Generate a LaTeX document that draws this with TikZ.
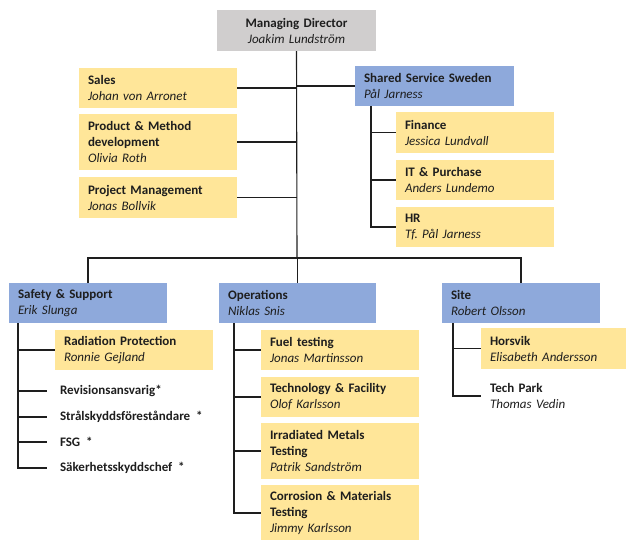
\documentclass[tikz,border=0pt]{standalone}
\usepackage{fontspec}
\setmainfont{Carlito}
\frenchspacing
\definecolor{boxyellow}{HTML}{FFE699}
\definecolor{boxblue}{HTML}{8EA9DB}
\definecolor{boxgray}{HTML}{D0CECE}
\definecolor{inkc}{HTML}{1E1E1E}
\begin{document}
\begin{tikzpicture}[x=1pt,y=-1pt,
  orgbox/.style={anchor=north west, inner xsep=9pt, inner ysep=0pt, outer sep=0pt,
    text width=140pt, align=left, text=inkc,
    font=\fontsize{13}{16}\selectfont},
  ybox/.style={orgbox, fill=boxyellow},
  bbox/.style={orgbox, fill=boxblue},
  plain/.style={anchor=west, inner xsep=13pt, inner ysep=0pt, outer sep=0pt, text=inkc,
    font=\fontsize{13}{16}\selectfont\bfseries},
  link/.style={draw=inkc, line width=1.1pt}
]
\useasboundingbox (0,0) rectangle (626,539);

% top
\node[orgbox, fill=boxgray, text width=141pt, align=center, minimum height=41pt] (md) at (217,10)
  {\textbf{Managing Director}\\\textit{Joakim Lundström}};

\node[ybox, minimum height=40pt] (sales) at (79,68) {\textbf{Sales}\\\textit{Johan von Arronet}};
\node[ybox, minimum height=56pt] (prod) at (79,114) {\textbf{Product \& Method}\\\textbf{development}\\\textit{Olivia Roth}};
\node[ybox, minimum height=41pt] (pm) at (79,177) {\textbf{Project Management}\\\textit{Jonas Bollvik}};

\node[bbox, text width=141pt, minimum height=40pt] (sss) at (355,66) {\textbf{Shared Service Sweden}\\\textit{Pål Jarness}};
\node[ybox, minimum height=41pt] (fin) at (396,112) {\textbf{Finance}\\\textit{Jessica Lundvall}};
\node[ybox, minimum height=40pt] (itp) at (396,160) {\textbf{IT \& Purchase}\\\textit{Anders Lundemo}};
\node[ybox, minimum height=40pt] (hr) at (396,207) {\textbf{HR}\\\textit{Tf.\ Pål Jarness}};

% second level
\coordinate (bar) at (297,258);
\node[bbox, minimum height=40pt] (safety) at (9,283) {\textbf{Safety \& Support}\\\textit{Erik Slunga}};
\node[bbox, text width=139pt, minimum height=40pt] (ops) at (219,283) {\textbf{Operations}\\\textit{Niklas Snis}};
\node[bbox, minimum height=40pt] (site) at (442,283) {\textbf{Site}\\\textit{Robert Olsson}};

\node[ybox, minimum height=40pt] (rad) at (55,330) {\textbf{Radiation Protection}\\\textit{Ronnie Gejland}};
\node[plain] (rev) at (47,391) {Revisionsansvarig*};
\node[plain] (str) at (47,417) {Strålskyddsföreståndare\ \ *};
\node[plain] (fsg) at (47,442) {FSG\ \ *};
\node[plain] (sak) at (47,468) {Säkerhetsskyddschef\ \ *};

\node[ybox, minimum height=40pt] (fuel) at (261,330) {\textbf{Fuel testing}\\\textit{Jonas Martinsson}};
\node[ybox, minimum height=40pt] (tech) at (261,377) {\textbf{Technology \& Facility}\\\textit{Olof Karlsson}};
\node[ybox, minimum height=56pt] (irr) at (261,423) {\textbf{Irradiated Metals}\\\textbf{Testing}\\\textit{Patrik Sandström}};
\node[ybox, minimum height=56pt] (corr) at (261,485) {\textbf{Corrosion \& Materials}\\\textbf{Testing}\\\textit{Jimmy Karlsson}};

\node[ybox, minimum height=41pt] (hors) at (481,328) {\textbf{Horsvik}\\\textit{Elisabeth Andersson}};
\node[orgbox, minimum height=40pt] (tp) at (481,376) {\textbf{Tech Park}\\\textit{Thomas Vedin}};

% connectors
\draw[link] (md.south) -- (bar);
\draw[link] (sales.east) -- (sales.east -| md.south);
\draw[link] (prod.east) -- (prod.east -| md.south);
\draw[link] (pm.east) -- (pm.east -| md.south);
\draw[link] (sss.west) -- (sss.west -| md.south);
\foreach \c in {fin,itp,hr} \draw[link] ([xshift=16pt]sss.south west) |- (\c.west);

\draw[link] (safety.north) |- (bar) -| (site.north);
\draw[link] (ops.north) -- (ops.north |- bar);

\foreach \c in {rad,rev,str,fsg,sak} \draw[link] ([xshift=9pt]safety.south west) |- (\c.west);
\foreach \c in {fuel,tech,irr,corr} \draw[link] ([xshift=15pt]ops.south west) |- (\c.west);
\foreach \c in {hors,tp} \draw[link] ([xshift=11pt]site.south west) |- (\c.west);
\end{tikzpicture}
\end{document}
